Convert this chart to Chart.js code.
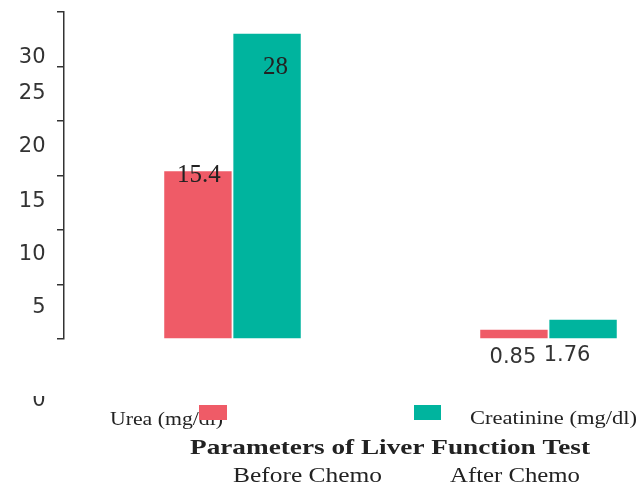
<!DOCTYPE html>
<html>
<head>
<meta charset="utf-8">
<script src="https://cdn.jsdelivr.net/npm/chart.js@4/dist/chart.umd.min.js"></script>
<style>
  html, body { margin: 0; padding: 0; background: #fff; overflow: hidden; }
  #wrap { width: 639px; height: 484px; }
</style>
</head>
<body>
<div id="wrap"><canvas id="c" width="639" height="484"></canvas></div>
<script>
// ---- data ----
const categories = ['Urea (mg/dl)', 'Creatinine (mg/dl)'];
const seriesNames = ['Before Chemo', 'After Chemo'];
const beforeChemo = [15.4, 0.85];
const afterChemo = [28, 1.76];
const yTickValues = [0, 5, 10, 15, 20, 25, 30];
const yTickLabels = ['0', '5', '10', '15', '20', '25', '30'];
const chartTitle = 'Parameters of Liver Function Test';

// ---- styling ----
const colors = ['#EF5B67', '#00B49E'];
const serif = '"Liberation Serif", "Times New Roman", serif';
const sans = '"DejaVu Sans", Verdana, sans-serif';
const styles = {
  tickFont: '21px ' + sans,
  tickColor: '#333',
  tickRight: 45.5,
  tickDy: [66.6, 28.6, 29.6, 31.6, 30.6, 32.1, 50.6],
  zeroClipTop: 396,
  valueNudge: [
    [{ dx: 1, dy: 11, font: '25px ' + serif }, { dx: -1, dy: 33.3, font: '21px ' + sans }],
    [{ dx: 8.5, dy: 39.7, font: '25px ' + serif }, { dx: -16, dy: 41.2, font: '21px ' + sans }]
  ],
  categoryText: [{ cx: 166.5, base: 425, w: 113 }, { cx: 553.5, base: 424, w: 167 }],
  legendBox: [{ x: 199, y: 405, w: 28, h: 15 }, { x: 414, y: 405, w: 27, h: 15 }],
  seriesText: [{ cx: 307.5, base: 482, w: 149 }, { cx: 515, base: 482, w: 130 }],
  title: { cx: 390, base: 454, w: 400 },
  textColor: '#222'
};

function drawStretched(ctx, text, cx, base, font, targetW, color) {
  ctx.save();
  ctx.font = font;
  const w = ctx.measureText(text).width;
  const sx = targetW ? targetW / w : 1;
  ctx.translate(cx, base);
  ctx.scale(sx, 1);
  ctx.textAlign = 'center';
  ctx.textBaseline = 'alphabetic';
  ctx.fillStyle = color;
  ctx.fillText(text, 0, 0);
  ctx.restore();
}

const overlay = {
  id: 'overlay',
  afterDraw(chart) {
    const ctx = chart.ctx;
    const yScale = chart.scales.y;
    // y tick labels
    yTickValues.forEach((v, i) => {
      const y = yScale.getPixelForValue(v) + styles.tickDy[i];
      ctx.save();
      if (v === 0) {
        ctx.beginPath();
        ctx.rect(0, styles.zeroClipTop, 64, 40);
        ctx.clip();
      }
      ctx.font = styles.tickFont;
      ctx.fillStyle = styles.tickColor;
      ctx.textAlign = 'right';
      ctx.textBaseline = 'alphabetic';
      ctx.fillText(yTickLabels[i], styles.tickRight, y);
      ctx.restore();
    });
    // value labels
    chart.data.datasets.forEach((ds, di) => {
      const meta = chart.getDatasetMeta(di);
      meta.data.forEach((bar, ci) => {
        const n = styles.valueNudge[di][ci];
        const val = ds.data[ci].y;
        drawStretched(ctx, String(val), bar.x + n.dx, bar.y + n.dy, n.font, 0,
          n.font.indexOf('Serif') >= 0 ? styles.textColor : styles.tickColor);
      });
    });
    // category labels
    categories.forEach((c, i) => {
      const s = styles.categoryText[i];
      drawStretched(ctx, c, s.cx, s.base, '18px ' + serif, s.w, styles.textColor);
    });
    // legend boxes
    seriesNames.forEach((n, i) => {
      const b = styles.legendBox[i];
      ctx.fillStyle = chart.data.datasets[i].backgroundColor;
      ctx.fillRect(b.x, b.y, b.w, b.h);
    });
    // title
    drawStretched(ctx, chartTitle, styles.title.cx, styles.title.base, 'bold 21px ' + serif, styles.title.w, styles.textColor);
    // series names
    seriesNames.forEach((n, i) => {
      const s = styles.seriesText[i];
      drawStretched(ctx, n, s.cx, s.base, '21px ' + serif, s.w, styles.textColor);
    });
  }
};

const bg = {
  id: 'bg',
  beforeDraw(chart) {
    const ctx = chart.ctx;
    ctx.save();
    ctx.fillStyle = '#fff';
    ctx.fillRect(0, 0, chart.width, chart.height);
    ctx.restore();
  }
};

const toPoints = arr => arr.map((v, i) => ({ x: i + 1, y: v }));

new Chart(document.getElementById('c'), {
  type: 'bar',
  data: {
    datasets: [
      { label: seriesNames[0], data: toPoints(beforeChemo), backgroundColor: colors[0], borderWidth: 0, categoryPercentage: 0.4375, barPercentage: 0.975 },
      { label: seriesNames[1], data: toPoints(afterChemo), backgroundColor: colors[1], borderWidth: 0, categoryPercentage: 0.4375, barPercentage: 0.975 }
    ]
  },
  options: {
    responsive: false,
    animation: false,
    devicePixelRatio: 1,
    layout: { padding: { top: 12, bottom: 145, left: 0, right: 0 } },
    plugins: { legend: { display: false }, tooltip: { enabled: false }, title: { display: false } },
    scales: {
      x: {
        type: 'linear',
        display: false,
        min: 0.4668,
        max: 2.2864,
        offset: false,
        afterBuildTicks(scale) {
          scale.ticks = categories.map((c, i) => ({ value: i + 1 }));
        }
      },
      y: {
        min: 0,
        max: 30,
        ticks: { stepSize: 5, display: false },
        grid: { drawOnChartArea: false, drawTicks: true, tickLength: 7, color: '#333', lineWidth: 1.5 },
        border: { display: true, color: '#333', width: 1.5 },
        afterFit(scale) { scale.width = 64; }
      }
    }
  },
  plugins: [bg, overlay]
});
</script>
</body>
</html>
